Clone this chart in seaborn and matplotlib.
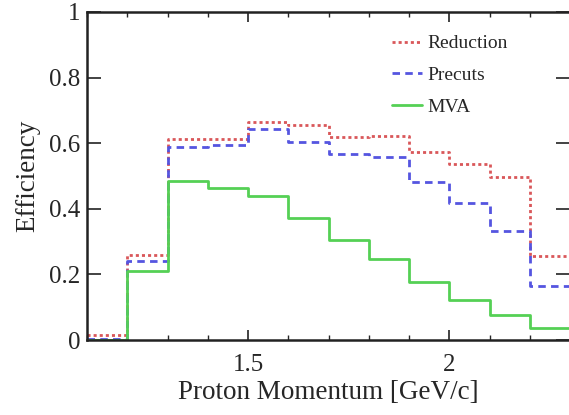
import numpy as np
import pandas as pd
import matplotlib
matplotlib.use("Agg")
import matplotlib.pyplot as plt
import seaborn as sns
from matplotlib.ticker import MultipleLocator, FixedLocator

bin_edges = [1.1, 1.2, 1.3, 1.4, 1.5, 1.6, 1.7, 1.8, 1.9, 2.0, 2.1, 2.2, 2.3]
reduction = [0.014, 0.258, 0.614, 0.612, 0.665, 0.654, 0.618, 0.623, 0.574, 0.536, 0.498, 0.256]
precuts = [0.004, 0.242, 0.589, 0.595, 0.643, 0.605, 0.567, 0.557, 0.481, 0.417, 0.332, 0.165]
mva = [0.0, 0.209, 0.485, 0.463, 0.440, 0.371, 0.305, 0.246, 0.178, 0.122, 0.076, 0.038]
series_names = ["Reduction", "Precuts", "MVA"]
x_ticks = [1.5, 2.0]
x_tick_labels = ["1.5", "2"]
y_ticks = [0, 0.2, 0.4, 0.6, 0.8, 1.0]
y_tick_labels = ["0", "0.2", "0.4", "0.6", "0.8", "1"]

sns.set_theme(style="ticks")
plt.rcParams['font.family'] = ['Liberation Serif', 'DejaVu Serif']

rows = []
for name, vals in zip(series_names, [reduction, precuts, mva]):
    xs = list(bin_edges)
    ys = list(vals) + [vals[-1]]
    for xv, yv in zip(xs, ys):
        rows.append({"p": xv, "eff": yv, "series": name})
df = pd.DataFrame(rows)

fig = plt.figure(figsize=(5.69, 4.15), dpi=100)
ax = fig.add_axes([87/569, 75/415, (570-87)/569, 328/415])

palette = {"Reduction": "#d9575a", "Precuts": "#5555e0", "MVA": "#55d055"}
styles = {"Reduction": (0, (1.1, 1.1)), "Precuts": (0, (2.7, 1.9)), "MVA": "-"}
for name in series_names:
    sub = df[df["series"] == name]
    sns.lineplot(data=sub, x="p", y="eff", ax=ax, color=palette[name],
                 linestyle=styles[name], linewidth=2.0, drawstyle="steps-post",
                 label=name, estimator=None, sort=False)

ax.set_xlim(1.1, 2.3)
ax.set_ylim(0, 1)
ax.xaxis.set_major_locator(FixedLocator(x_ticks))
ax.set_xticklabels(x_tick_labels)
ax.xaxis.set_minor_locator(MultipleLocator(0.1))
ax.yaxis.set_major_locator(FixedLocator(y_ticks))
ax.set_yticklabels(y_tick_labels)
ax.tick_params(axis="both", which="major", direction="in", labelsize=18,
               top=True, right=True, width=1.2, color="#222222")
ax.tick_params(axis="x", which="major", length=7, pad=10)
ax.tick_params(axis="y", which="major", length=10, pad=5)
ax.tick_params(axis="x", which="minor", direction="in", length=3.5, top=True, width=1.0)
for s in ax.spines.values():
    s.set_linewidth(1.8)
    s.set_color("#222222")
ax.set_xlabel("Proton Momentum [GeV/c]", fontsize=19.5, labelpad=3)
ax.set_ylabel("Efficiency", fontsize=19.5, labelpad=6)

ax.legend(loc="upper left", bbox_to_anchor=(384/569, 1 - 27/415),
          bbox_transform=fig.transFigure, frameon=False, fontsize=14,
          handlelength=1.55, handletextpad=0.3, labelspacing=0.72, borderaxespad=0)

fig.savefig("out.png", dpi=100)
